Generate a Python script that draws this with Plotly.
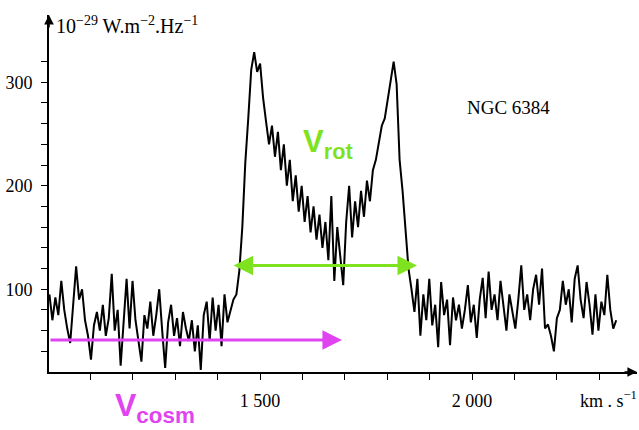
import numpy as np
import plotly.graph_objects as go

# ---- data ----
velocity_start = 1003   # km/s, first channel
velocity_step = 7       # km/s, channel width

flux_left_baseline = [
    95, 70, 92, 75, 108, 80, 62, 48, 85, 122, 90, 100, 70, 55, 32, 65, 78, 60, 85, 55,
    72, 115, 60, 80, 26, 70, 110, 62, 108, 70, 50, 30, 75, 62, 88, 55, 75, 100, 60, 24,
    68, 85, 55, 72, 45, 78, 62, 50, 70, 40, 65, 22, 75, 88, 50, 92, 60, 85, 45, 95,
    68, 80,
]
flux_profile = [
    90, 95, 118, 160, 222, 265, 312, 329, 310, 318, 285, 262, 240, 258, 228, 252, 215, 240, 200, 225,
    185, 210, 175, 200, 165, 190, 155, 180, 148, 172, 140, 165, 128, 190, 108, 160, 130, 104, 165, 200,
    150, 185, 160, 195, 170, 205, 185, 215, 225, 240, 258, 265, 285, 305, 320, 298, 225, 195, 160, 120,
    100, 78,
]
flux_right_baseline = [
    110, 55, 95, 70, 110, 65, 85, 44, 107, 75, 90, 46, 92, 70, 85, 62, 80, 104, 68, 85,
    53, 90, 111, 72, 117, 80, 95, 70, 108, 85, 60, 95, 78, 62, 90, 123, 80, 95, 70, 100,
    114, 85, 120, 62, 66, 55, 40, 72, 80, 108, 85, 100, 68, 110, 123, 90, 72, 107, 85, 56,
    95, 60, 88, 75, 114, 80, 62, 70,
]

x_label_ticks = [1500, 2000]
x_label_text = ["1 500", "2 000"]
x_minor_ticks = [1100, 1200, 1300, 1400, 1600, 1700, 1800, 1900, 2100, 2200, 2300]
y_label_ticks = [100, 200, 300]
y_label_text = ["100", "200", "300"]
y_minor_ticks = [40, 60, 80, 120, 140, 160, 180, 220, 240, 260, 280, 320]

vrot_range = [1434, 1870]
vrot_level = 123
vcosm_range = [1002, 1693]
vcosm_level = 51

x_range = [1002, 2389]
y_range = [20, 365]

flux = flux_left_baseline + flux_profile + flux_right_baseline
velocity = velocity_start + velocity_step * np.arange(len(flux))

GREEN = "#7ee21f"
MAGENTA = "#e043f0"
SERIF = "Liberation Serif"
SANS = "Liberation Sans"

fig = go.Figure()
fig.add_trace(go.Scatter(x=velocity, y=flux, mode="lines",
                         line=dict(color="black", width=2), hoverinfo="skip",
                         showlegend=False))

fig.update_layout(
    width=639, height=430,
    margin=dict(l=49, r=2, t=15, b=58),
    paper_bgcolor="white", plot_bgcolor="white",
    font=dict(family=SERIF, size=18, color="black"),
    showlegend=False,
)
minor_style = dict(ticks="outside", ticklen=6, tickwidth=1.2, tickcolor="black", showgrid=False)
fig.update_xaxes(range=x_range, showgrid=False, zeroline=False, automargin=False,
                 showline=True, linecolor="black", linewidth=1.6,
                 ticks="outside", ticklen=6, tickwidth=1.2, tickcolor="black",
                 tickmode="array", tickvals=x_label_ticks, ticktext=x_label_text,
                 ticklabelstandoff=6, tickfont=dict(family=SERIF, size=18),
                 minor=dict(tickmode="array", tickvals=x_minor_ticks, **minor_style))
fig.update_yaxes(range=y_range, showgrid=False, zeroline=False, automargin=False,
                 showline=True, linecolor="black", linewidth=1.6,
                 ticks="outside", ticklen=6, tickwidth=1.2, tickcolor="black",
                 tickmode="array", tickvals=y_label_ticks, ticktext=y_label_text,
                 ticklabelstandoff=5, tickfont=dict(family=SERIF, size=18),
                 minor=dict(tickmode="array", tickvals=y_minor_ticks, **minor_style))

ann = []
# axis arrowheads
ann.append(dict(xref="paper", yref="paper", x=1, y=0, ax=-14, ay=0, showarrow=True,
                arrowhead=2, arrowsize=1.2, arrowwidth=1.6, arrowcolor="black", text=""))
ann.append(dict(xref="paper", yref="paper", x=0, y=1, ax=0, ay=14, showarrow=True,
                arrowhead=2, arrowsize=1.2, arrowwidth=1.6, arrowcolor="black", text=""))
# V_rot double arrow
ann.append(dict(x=vrot_range[1], y=vrot_level, ax=vrot_range[0], ay=vrot_level,
                xref="x", yref="y", axref="x", ayref="y", showarrow=True, text="",
                arrowhead=2, startarrowhead=2, arrowside="end+start",
                arrowsize=1.3, startarrowsize=1.3, arrowwidth=3, arrowcolor=GREEN))
# V_cosm arrow
ann.append(dict(x=vcosm_range[1], y=vcosm_level, ax=vcosm_range[0], ay=vcosm_level,
                xref="x", yref="y", axref="x", ayref="y", showarrow=True, text="",
                arrowhead=2, arrowsize=1.3, arrowwidth=3, arrowcolor=MAGENTA))
# texts
ann.append(dict(xref="paper", yref="paper", x=0.009, y=0.972, xanchor="left", yanchor="middle",
                text="10<sup>−29</sup> W.m<sup>−2</sup>.Hz<sup>−1</sup>", showarrow=False,
                font=dict(family=SERIF, size=20, color="black")))
ann.append(dict(xref="x", yref="y", x=1983, y=276, xanchor="left", yanchor="middle",
                text="NGC 6384", showarrow=False,
                font=dict(family=SERIF, size=19, color="black")))
ann.append(dict(xref="paper", yref="paper", x=0.9, y=-0.078, xanchor="left", yanchor="middle",
                text="km . s<sup>−1</sup>", showarrow=False,
                font=dict(family=SERIF, size=18, color="black")))
ann.append(dict(xref="x", yref="y", x=1597, y=240, xanchor="left", yanchor="middle",
                text="<b>V<sub>rot</sub></b>", showarrow=False,
                font=dict(family=SANS, size=31, color=GREEN)))
ann.append(dict(xref="paper", yref="paper", x=0.108, y=-0.099, xanchor="left", yanchor="middle",
                text="<b>V<sub>cosm</sub></b>", showarrow=False,
                font=dict(family=SANS, size=32, color=MAGENTA)))
fig.update_layout(annotations=ann)

fig.write_html("out.html", config={"displayModeBar": False},
               post_script="document.body.style.margin='0px';document.body.style.overflow='hidden';")
